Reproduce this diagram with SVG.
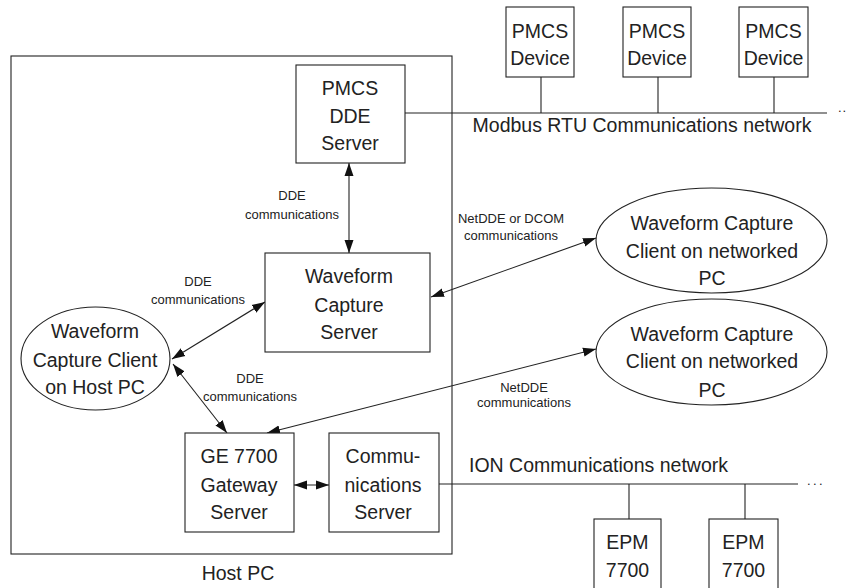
<svg xmlns="http://www.w3.org/2000/svg" width="846" height="588" viewBox="0 0 846 588">
<style>
.b{fill:#fff;stroke:#222;stroke-width:1.1}
.l{fill:none;stroke:#222;stroke-width:1.1}
.a{fill:none;stroke:#222;stroke-width:1.1;marker-start:url(#ah);marker-end:url(#ah)}
.t{font-family:"Liberation Sans",Arial,sans-serif;font-size:19.5px;fill:#222;text-anchor:middle}
.s{font-family:"Liberation Sans",Arial,sans-serif;font-size:13px;fill:#222;text-anchor:middle}
</style>
<defs>
<marker id="ah" viewBox="0 0 13 10" refX="13" refY="5" markerWidth="13" markerHeight="10" markerUnits="userSpaceOnUse" orient="auto-start-reverse"><path d="M0,0.5 L13,5 L0,9.5 z" fill="#111"/></marker>
</defs>
<g id="hostpc">
<rect x="11" y="56" width="441" height="498" fill="none" stroke="#222" stroke-width="1.1"/>
<text class="t" x="238" y="580">Host PC</text>
</g>
<g id="connectors">
<line class="l" x1="405" y1="113" x2="827" y2="113"/>
<line class="l" x1="541" y1="77" x2="541" y2="113"/>
<line class="l" x1="658" y1="77" x2="658" y2="113"/>
<line class="l" x1="774" y1="77" x2="774" y2="113"/>
<line class="l" x1="439" y1="484" x2="798" y2="484"/>
<line class="l" x1="629" y1="484" x2="629" y2="519"/>
<line class="l" x1="745" y1="484" x2="745" y2="519"/>
<line class="a" x1="349" y1="163" x2="349" y2="253"/>
<line class="a" x1="265" y1="302" x2="172" y2="359"/>
<line class="a" x1="173" y1="364" x2="227" y2="433"/>
<line class="a" x1="431" y1="297" x2="596" y2="238"/>
<line class="a" x1="267" y1="433" x2="596" y2="349"/>
<line class="a" x1="294" y1="485" x2="329" y2="485"/>
</g>
<g id="labels">
<text class="t" x="642" y="132">Modbus RTU Communications network</text>
<text class="s" x="838" y="112" style="text-anchor:start;letter-spacing:1px">..</text>
<text class="t" x="469" y="472" style="text-anchor:start">ION Communications network</text>
<text class="s" x="807" y="485" style="text-anchor:start;letter-spacing:2.4px">...</text>
<text class="s" x="292" y="200">DDE</text>
<text class="s" x="292" y="219">communications</text>
<text class="s" x="198" y="286">DDE</text>
<text class="s" x="198" y="304">communications</text>
<text class="s" x="250" y="383">DDE</text>
<text class="s" x="250" y="401">communications</text>
<text class="s" x="511" y="223">NetDDE or DCOM</text>
<text class="s" x="511" y="240">communications</text>
<text class="s" x="524" y="392">NetDDE</text>
<text class="s" x="524" y="407">communications</text>
</g>
<g id="pmcs-dde">
<rect class="b" x="296" y="65" width="109" height="98"/>
<text class="t" x="350" y="95">PMCS</text>
<text class="t" x="350" y="123">DDE</text>
<text class="t" x="350" y="150">Server</text>
</g>
<g id="dev1">
<rect class="b" x="506" y="7" width="68" height="70"/>
<text class="t" x="540" y="38">PMCS</text>
<text class="t" x="540" y="65">Device</text>
</g>
<g id="dev2">
<rect class="b" x="623" y="7" width="68" height="70"/>
<text class="t" x="657" y="38">PMCS</text>
<text class="t" x="657" y="65">Device</text>
</g>
<g id="dev3">
<rect class="b" x="739" y="7" width="69" height="70"/>
<text class="t" x="773.5" y="38">PMCS</text>
<text class="t" x="773.5" y="65">Device</text>
</g>
<g id="wcs">
<rect class="b" x="265" y="253" width="165" height="99"/>
<text class="t" x="349" y="283">Waveform</text>
<text class="t" x="349" y="312">Capture</text>
<text class="t" x="349" y="339">Server</text>
</g>
<g id="client-host">
<ellipse class="b" cx="95.5" cy="358.5" rx="74.5" ry="51.5"/>
<text class="t" x="95" y="338">Waveform</text>
<text class="t" x="95" y="367">Capture Client</text>
<text class="t" x="95" y="394">on Host PC</text>
</g>
<g id="client-net1">
<ellipse class="b" cx="711.5" cy="240.5" rx="115.5" ry="52.5"/>
<text class="t" x="712" y="230">Waveform Capture</text>
<text class="t" x="712" y="258">Client on networked</text>
<text class="t" x="712" y="285">PC</text>
</g>
<g id="client-net2">
<ellipse class="b" cx="711.5" cy="352" rx="115.5" ry="53"/>
<text class="t" x="712" y="341">Waveform Capture</text>
<text class="t" x="712" y="368">Client on networked</text>
<text class="t" x="712" y="397">PC</text>
</g>
<g id="ge7700">
<rect class="b" x="185" y="433" width="109" height="99"/>
<text class="t" x="239" y="463">GE 7700</text>
<text class="t" x="239" y="492">Gateway</text>
<text class="t" x="239" y="519">Server</text>
</g>
<g id="comm">
<rect class="b" x="329" y="433" width="110" height="99"/>
<text class="t" x="383" y="463">Commu-</text>
<text class="t" x="383" y="492">nications</text>
<text class="t" x="383" y="519">Server</text>
</g>
<g id="epm1">
<rect class="b" x="594" y="519" width="67" height="75"/>
<text class="t" x="627.5" y="549">EPM</text>
<text class="t" x="627.5" y="577">7700</text>
</g>
<g id="epm2">
<rect class="b" x="709" y="519" width="69" height="75"/>
<text class="t" x="743.5" y="549">EPM</text>
<text class="t" x="743.5" y="577">7700</text>
</g>
</svg>
